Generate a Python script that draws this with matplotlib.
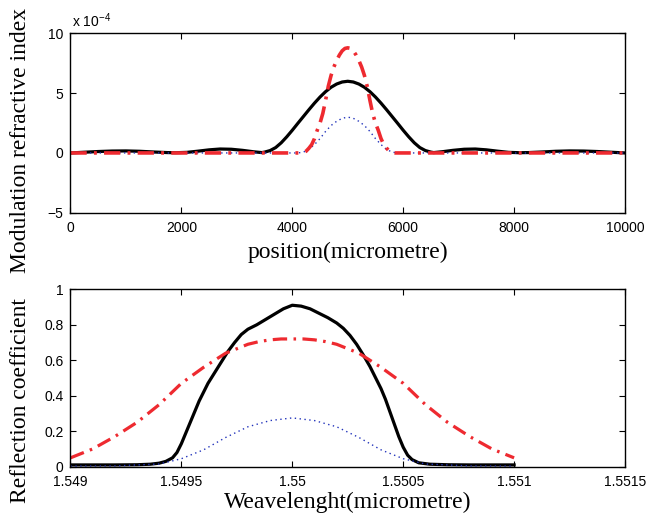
import matplotlib
matplotlib.use("Agg")
import matplotlib.pyplot as plt
from matplotlib.ticker import FuncFormatter

plt.rcParams["font.family"] = ["Liberation Sans", "DejaVu Sans"]
plt.rcParams["mathtext.fontset"] = "custom"
plt.rcParams["mathtext.rm"] = "Liberation Sans"
plt.rcParams["axes.unicode_minus"] = True

# ---- top panel: modulation of the refractive index (units of 1e-4) ----
pos_black = [0, 250, 500, 750, 1000, 1250, 1500, 1750, 1900, 2100, 2300, 2500,
             2700, 2900, 3100, 3300, 3450, 3500, 3600, 3700, 3800, 3900, 4000,
             4100, 4200, 4300, 4400, 4500, 4600, 4700, 4800, 4900, 5000, 5100,
             5200, 5300, 5400, 5500, 5600, 5700, 5800, 5900, 6000, 6100, 6200,
             6300, 6400, 6500, 6550, 6700, 6900, 7100, 7300, 7500, 7700, 7900,
             8100, 8250, 8500, 8750, 9000, 9250, 9500, 9750, 10000]
dn_black = [0.0, 0.06, 0.12, 0.16, 0.17, 0.14, 0.08, 0.03, 0.02, 0.05, 0.15, 0.26,
            0.33, 0.31, 0.22, 0.1, 0.03, 0.07, 0.2, 0.45, 0.85, 1.35, 1.9,
            2.48, 3.05, 3.62, 4.17, 4.68, 5.13, 5.5, 5.77, 5.94, 6.0, 5.94,
            5.77, 5.5, 5.13, 4.68, 4.17, 3.62, 3.05, 2.48, 1.9, 1.35, 0.85,
            0.45, 0.2, 0.07, 0.03, 0.1, 0.22, 0.31, 0.33, 0.26, 0.15, 0.05,
            0.02, 0.03, 0.08, 0.14, 0.17, 0.16, 0.12, 0.06, 0.0]

pos_red = [0, 4000, 4150, 4200, 4250, 4300, 4350, 4400, 4450, 4500, 4550, 4600,
           4650, 4700, 4750, 4800, 4850, 4900, 4950, 5000, 5050, 5100, 5150,
           5200, 5250, 5300, 5350, 5400, 5450, 5500, 5550, 5600, 5650, 5700,
           5750, 5800, 5850, 6000, 10000]
dn_red = [0.0, 0.0, 0.0, 0.03, 0.15, 0.4, 0.7, 1.2, 1.9, 2.5, 3.3, 4.4,
          5.6, 6.5, 7.2, 7.75, 8.2, 8.55, 8.75, 8.8, 8.75, 8.55, 8.2,
          7.75, 7.2, 6.5, 5.6, 4.4, 3.3, 2.5, 1.9, 1.2, 0.7, 0.4,
          0.15, 0.03, 0.0, 0.0, 0.0]

pos_blue = [0, 4000, 4100, 4200, 4300, 4400, 4500, 4600, 4700, 4800, 4900, 5000,
            5100, 5200, 5300, 5400, 5500, 5600, 5700, 5800, 5900, 6000, 10000]
dn_blue = [0.0, 0.0, 0.0, 0.07, 0.3, 0.7, 1.2, 1.8, 2.3, 2.65, 2.9, 3.0,
           2.9, 2.65, 2.3, 1.8, 1.2, 0.7, 0.3, 0.07, 0.0, 0.0, 0.0]

# ---- bottom panel: reflection spectra ----
wl_black = [1.54900, 1.54920, 1.54930, 1.54936, 1.54940, 1.54943, 1.54946,
            1.54948, 1.54950, 1.54952, 1.54954, 1.54956, 1.54958, 1.54960,
            1.54962, 1.54965, 1.54968, 1.54971, 1.54974, 1.54977, 1.54980,
            1.54984, 1.54988, 1.54992, 1.54996, 1.55000, 1.55004, 1.55008,
            1.55012, 1.55016, 1.55020, 1.55023, 1.55026, 1.55029, 1.55032,
            1.55035, 1.55038, 1.55040, 1.55042, 1.55044, 1.55046, 1.55048,
            1.55050, 1.55052, 1.55054, 1.55057, 1.55062, 1.55070, 1.55080,
            1.55100]
r_black = [0.01, 0.01, 0.011, 0.014, 0.02, 0.03, 0.05,
           0.08, 0.13, 0.19, 0.25, 0.31, 0.37, 0.42,
           0.47, 0.53, 0.59, 0.65, 0.70, 0.745, 0.775,
           0.80, 0.83, 0.86, 0.89, 0.91, 0.905, 0.89,
           0.865, 0.84, 0.81, 0.78, 0.74, 0.69, 0.63,
           0.565, 0.49, 0.44, 0.38, 0.31, 0.24, 0.17,
           0.11, 0.065, 0.04, 0.022, 0.014, 0.011, 0.01,
           0.01]

wl_red = [1.54900, 1.54905, 1.54910, 1.54915, 1.54920, 1.54925, 1.54930,
          1.54935, 1.54940, 1.54945, 1.54950, 1.54955, 1.54960, 1.54965,
          1.54970, 1.54975, 1.54980, 1.54985, 1.54990, 1.54995, 1.55000,
          1.55005, 1.55010, 1.55015, 1.55020, 1.55025, 1.55030, 1.55035,
          1.55040, 1.55045, 1.55050, 1.55055, 1.55060, 1.55065, 1.55070,
          1.55075, 1.55080, 1.55085, 1.55090, 1.55095, 1.55100]
r_red = [0.05, 0.075, 0.10, 0.135, 0.17, 0.21, 0.25,
         0.30, 0.35, 0.41, 0.47, 0.515, 0.56, 0.60,
         0.64, 0.665, 0.69, 0.705, 0.715, 0.72, 0.72,
         0.72, 0.715, 0.705, 0.69, 0.665, 0.64, 0.60,
         0.56, 0.515, 0.47, 0.41, 0.35, 0.30, 0.25,
         0.21, 0.17, 0.135, 0.10, 0.075, 0.05]

wl_blue = [1.5490, 1.5492, 1.5493, 1.5494, 1.5495, 1.5496, 1.5497, 1.5498,
           1.5499, 1.5500, 1.5501, 1.5502, 1.5503, 1.5504, 1.5505, 1.5506,
           1.5507, 1.5508, 1.5510]
r_blue = [0.003, 0.004, 0.01, 0.015, 0.045, 0.095, 0.165, 0.225,
          0.26, 0.275, 0.26, 0.225, 0.165, 0.095, 0.045, 0.015,
          0.01, 0.004, 0.003]

x_ticks_top = [0, 2000, 4000, 6000, 8000, 10000]
y_ticks_top = [-5, 0, 5, 10]
x_ticks_bot = [1.549, 1.5495, 1.55, 1.5505, 1.551, 1.5515]
y_ticks_bot = [0, 0.2, 0.4, 0.6, 0.8, 1]

BLACK = "#000000"
RED = "#ee2a30"
BLUE = "#2233bb"
SERIF = ["Liberation Serif", "DejaVu Serif"]

fig = plt.figure(figsize=(6.52, 5.20), dpi=100)
ax1 = fig.add_axes([0.1081, 0.5910, 0.8505, 0.3446])
ax2 = fig.add_axes([0.1081, 0.1025, 0.8505, 0.3412])

fmt = FuncFormatter(lambda v, p: ("%g" % v).replace("-", "\u2212"))


def style(ax):
    ax.tick_params(direction="in", length=4, width=0.8, top=True, right=True,
                   labelsize=10)
    ax.tick_params(axis="x", pad=6)
    ax.tick_params(axis="y", pad=5)
    for s in ax.spines.values():
        s.set_linewidth(1.0)
    ax.xaxis.set_major_formatter(fmt)
    ax.yaxis.set_major_formatter(fmt)


ax1.plot(pos_black, dn_black, color=BLACK, lw=2.3)
ax1.plot(pos_blue, dn_blue, color=BLUE, lw=1.0, linestyle=(0, (1, 2.5)))
ax1.plot(pos_red, dn_red, color=RED, lw=2.6, dashes=(4.5, 2, 0.8, 2))
ax1.set_xlim(0, 10000)
ax1.set_ylim(-5, 10)
ax1.set_xticks(x_ticks_top)
ax1.set_yticks(y_ticks_top)
style(ax1)
ax1.text(0.003, 1.02, "x 10$^{\\mathregular{-4}}$", transform=ax1.transAxes,
         fontsize=10, ha="left", va="bottom")
ax1.set_xlabel("position(micrometre)", family=SERIF, fontsize=17)
ax1.xaxis.set_label_coords(0.5, -0.219)
ax1.xaxis.label.set_va("center")
ax1.set_ylabel("Modulation refractive index", family=SERIF, fontsize=17)
ax1.yaxis.set_label_coords(-0.091, 0.405)
ax1.yaxis.label.set_va("center")

ax2.plot(wl_black, r_black, color=BLACK, lw=2.3)
ax2.plot(wl_blue, r_blue, color=BLUE, lw=1.0, linestyle=(0, (1, 2.5)))
ax2.plot(wl_red, r_red, color=RED, lw=2.3, dashes=(4.5, 2, 0.8, 2))
ax2.set_xlim(1.549, 1.5515)
ax2.set_ylim(0, 1)
ax2.set_xticks(x_ticks_bot)
ax2.set_yticks(y_ticks_bot)
style(ax2)
ax2.set_xlabel("Weavelenght(micrometre)", family=SERIF, fontsize=17)
ax2.xaxis.set_label_coords(0.5, -0.199)
ax2.xaxis.label.set_va("center")
ax2.set_ylabel("Reflection coefficient", family=SERIF, fontsize=17)
ax2.yaxis.set_label_coords(-0.091, 0.37)
ax2.yaxis.label.set_va("center")

fig.savefig("out.png", dpi=100)
